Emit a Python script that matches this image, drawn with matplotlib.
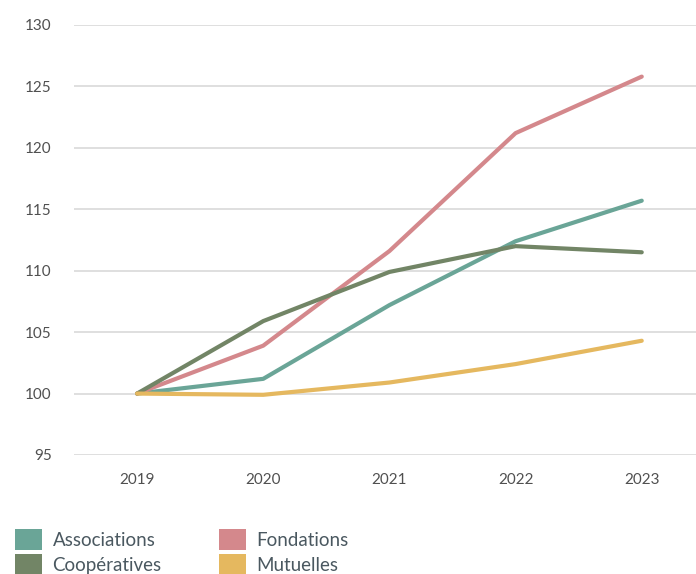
import matplotlib
matplotlib.use("Agg")
import matplotlib.pyplot as plt
from matplotlib.patches import Patch

years = ["2019", "2020", "2021", "2022", "2023"]
associations = [100, 101.2, 107.2, 112.4, 115.7]
fondations = [100, 103.9, 111.6, 121.2, 125.8]
cooperatives = [100, 105.9, 109.9, 112.0, 111.5]
mutuelles = [100, 99.9, 100.9, 102.4, 104.3]
yticks = [95, 100, 105, 110, 115, 120, 125, 130]

series = [
    ("Associations", associations, "#6aa597"),
    ("Fondations", fondations, "#d4888c"),
    ("Coopératives", cooperatives, "#728566"),
    ("Mutuelles", mutuelles, "#e5b85f"),
]

plt.rcParams['font.family'] = ['Lato', 'DejaVu Sans']

fig = plt.figure(figsize=(6.96, 5.74), dpi=100)
ax = fig.add_axes([74/696, 1 - 455/574, (696-74)/696, 430/574])

x = list(range(len(years)))
for name, vals, col in series:
    ax.plot(x, vals, color=col, lw=3, solid_capstyle='round', solid_joinstyle='round', zorder=3)

ax.set_ylim(95, 130)
ax.set_xlim(-0.5, 4.43)
ax.set_yticks(yticks)
ax.set_yticklabels([str(v) for v in yticks])
ax.set_xticks(x)
ax.set_xticklabels(years)
ax.grid(axis='y', color='#d9d9d9', lw=1.2)
ax.set_axisbelow(True)
for s in ax.spines.values():
    s.set_visible(False)
ax.tick_params(axis='both', length=0, labelsize=11, colors='#505050')
ax.tick_params(axis='y', pad=16)
ax.tick_params(axis='x', pad=13)

order = [0, 2, 1, 3]
handles = [Patch(facecolor=series[i][2], edgecolor='none') for i in order]
labels = [series[i][0] for i in order]
leg = fig.legend(handles, labels, ncol=2, loc='lower left', bbox_to_anchor=(15/696, -1/574),
                 frameon=False, fontsize=13.5, handlelength=1.45, handleheight=1.35,
                 handletextpad=0.55, columnspacing=3.05, labelspacing=0.2, borderpad=0,
                 borderaxespad=0, labelcolor='#4a5860')

fig.savefig("out.png", dpi=100)
